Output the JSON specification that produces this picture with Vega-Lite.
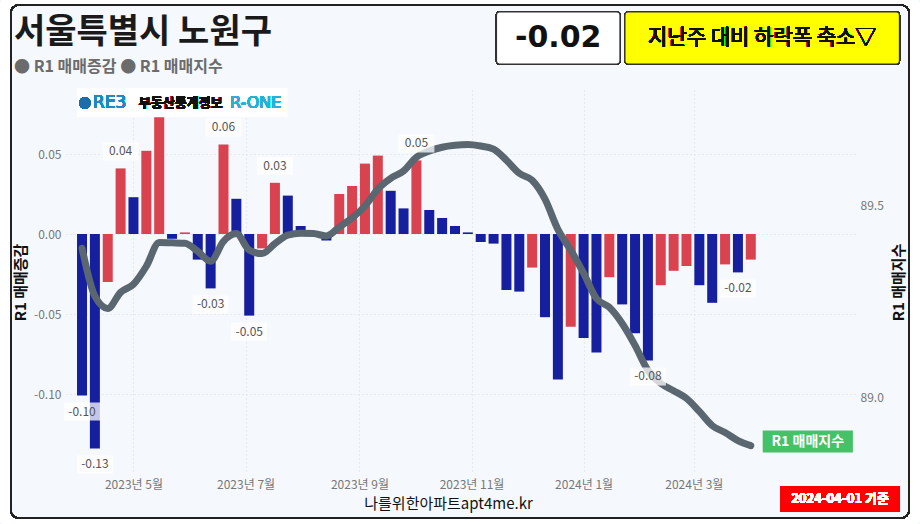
{
  "$schema": "https://vega.github.io/schema/vega-lite/v6.json",
  "width": 789,
  "height": 384,
  "autosize": "none",
  "padding": {"left": 66, "top": 90, "right": 65, "bottom": 50},
  "background": "#f5f8fc",
  "title": {
    "text": "서울특별시 노원구",
    "subtitle": "● R1 매매증감 ● R1 매매지수",
    "anchor": "start",
    "frame": "group",
    "dx": -52,
    "dy": 96,
    "offset": 14,
    "font": "Noto Sans CJK KR",
    "fontSize": 34,
    "fontWeight": "bold",
    "color": "#1a1a1a",
    "subtitleFont": "Noto Sans CJK KR",
    "subtitleFontSize": 16,
    "subtitleFontWeight": "bold",
    "subtitleColor": "#6b6b6b",
    "subtitlePadding": 9
  },
  "config": {
    "font": "Noto Sans CJK KR",
    "view": {"stroke": null},
    "axis": {"labelFont": "Noto Sans CJK KR", "titleFont": "Noto Sans CJK KR"}
  },
  "datasets": {
    "weekly": [
      {"date": "2023-04-03", "v": -0.101, "idx": 89.388, "dir": "하락", "show": true},
      {"date": "2023-04-10", "v": -0.134, "idx": 89.263, "dir": "하락", "show": true},
      {"date": "2023-04-17", "v": -0.030, "idx": 89.231, "dir": "상승", "show": false},
      {"date": "2023-04-24", "v": 0.041, "idx": 89.273, "dir": "상승", "show": true},
      {"date": "2023-05-01", "v": 0.023, "idx": 89.294, "dir": "하락", "show": false},
      {"date": "2023-05-08", "v": 0.052, "idx": 89.341, "dir": "상승", "show": false},
      {"date": "2023-05-15", "v": 0.073, "idx": 89.403, "dir": "상승", "show": false},
      {"date": "2023-05-22", "v": -0.003, "idx": 89.402, "dir": "하락", "show": false},
      {"date": "2023-05-29", "v": 0.001, "idx": 89.401, "dir": "상승", "show": false},
      {"date": "2023-06-05", "v": -0.016, "idx": 89.380, "dir": "하락", "show": false},
      {"date": "2023-06-12", "v": -0.034, "idx": 89.354, "dir": "하락", "show": true},
      {"date": "2023-06-19", "v": 0.056, "idx": 89.406, "dir": "상승", "show": true},
      {"date": "2023-06-26", "v": 0.022, "idx": 89.426, "dir": "하락", "show": false},
      {"date": "2023-07-03", "v": -0.051, "idx": 89.383, "dir": "하락", "show": true},
      {"date": "2023-07-10", "v": -0.009, "idx": 89.374, "dir": "상승", "show": false},
      {"date": "2023-07-17", "v": 0.032, "idx": 89.400, "dir": "상승", "show": true},
      {"date": "2023-07-24", "v": 0.024, "idx": 89.422, "dir": "하락", "show": false},
      {"date": "2023-07-31", "v": 0.005, "idx": 89.427, "dir": "하락", "show": false},
      {"date": "2023-08-07", "v": -0.001, "idx": 89.426, "dir": "하락", "show": false},
      {"date": "2023-08-14", "v": -0.004, "idx": 89.420, "dir": "하락", "show": false},
      {"date": "2023-08-21", "v": 0.025, "idx": 89.443, "dir": "상승", "show": false},
      {"date": "2023-08-28", "v": 0.030, "idx": 89.467, "dir": "상승", "show": false},
      {"date": "2023-09-04", "v": 0.044, "idx": 89.498, "dir": "상승", "show": false},
      {"date": "2023-09-11", "v": 0.049, "idx": 89.542, "dir": "상승", "show": false},
      {"date": "2023-09-18", "v": 0.027, "idx": 89.570, "dir": "하락", "show": false},
      {"date": "2023-09-25", "v": 0.016, "idx": 89.589, "dir": "하락", "show": false},
      {"date": "2023-10-02", "v": 0.046, "idx": 89.625, "dir": "상승", "show": true},
      {"date": "2023-10-09", "v": 0.015, "idx": 89.641, "dir": "하락", "show": false},
      {"date": "2023-10-16", "v": 0.010, "idx": 89.651, "dir": "하락", "show": false},
      {"date": "2023-10-23", "v": 0.005, "idx": 89.656, "dir": "하락", "show": false},
      {"date": "2023-10-30", "v": 0.001, "idx": 89.658, "dir": "하락", "show": false},
      {"date": "2023-11-06", "v": -0.005, "idx": 89.654, "dir": "하락", "show": false},
      {"date": "2023-11-13", "v": -0.006, "idx": 89.646, "dir": "하락", "show": false},
      {"date": "2023-11-20", "v": -0.035, "idx": 89.617, "dir": "하락", "show": false},
      {"date": "2023-11-27", "v": -0.036, "idx": 89.583, "dir": "하락", "show": false},
      {"date": "2023-12-04", "v": -0.021, "idx": 89.565, "dir": "상승", "show": false},
      {"date": "2023-12-11", "v": -0.052, "idx": 89.516, "dir": "하락", "show": false},
      {"date": "2023-12-18", "v": -0.091, "idx": 89.437, "dir": "하락", "show": false},
      {"date": "2023-12-25", "v": -0.058, "idx": 89.383, "dir": "상승", "show": false},
      {"date": "2024-01-01", "v": -0.065, "idx": 89.323, "dir": "하락", "show": false},
      {"date": "2024-01-08", "v": -0.074, "idx": 89.257, "dir": "하락", "show": false},
      {"date": "2024-01-15", "v": -0.027, "idx": 89.234, "dir": "상승", "show": false},
      {"date": "2024-01-22", "v": -0.044, "idx": 89.192, "dir": "하락", "show": false},
      {"date": "2024-01-29", "v": -0.062, "idx": 89.135, "dir": "하락", "show": false},
      {"date": "2024-02-05", "v": -0.079, "idx": 89.070, "dir": "하락", "show": true},
      {"date": "2024-02-12", "v": -0.032, "idx": 89.036, "dir": "상승", "show": false},
      {"date": "2024-02-19", "v": -0.023, "idx": 89.017, "dir": "상승", "show": false},
      {"date": "2024-02-26", "v": -0.020, "idx": 88.997, "dir": "상승", "show": false},
      {"date": "2024-03-04", "v": -0.032, "idx": 88.963, "dir": "하락", "show": false},
      {"date": "2024-03-11", "v": -0.043, "idx": 88.926, "dir": "하락", "show": false},
      {"date": "2024-03-18", "v": -0.019, "idx": 88.908, "dir": "상승", "show": false},
      {"date": "2024-03-25", "v": -0.024, "idx": 88.887, "dir": "하락", "show": true},
      {"date": "2024-04-01", "v": -0.016, "idx": 88.874, "dir": "상승", "show": false}
    ]
  },
  "data": {"name": "weekly"},
  "layer": [
    {
      "layer": [
        {
          "mark": {"type": "bar", "width": 10},
          "encoding": {
            "x": {
              "field": "date", "type": "temporal",
              "scale": {"type": "utc", "domain": [{"year": 2023, "month": 3, "date": 28, "utc": true}, {"year": 2024, "month": 5, "date": 25, "utc": true}], "nice": false},
              "axis": {
                "title": "나를위한아파트apt4me.kr",
                "titleFontSize": 15, "titleFontWeight": "normal", "titleColor": "#111",
                "titleX": 382, "titlePadding": 6,
                "values": [
                  {"year": 2023, "month": 5, "date": 1, "utc": true},
                  {"year": 2023, "month": 7, "date": 1, "utc": true},
                  {"year": 2023, "month": 9, "date": 1, "utc": true},
                  {"year": 2023, "month": 11, "date": 1, "utc": true},
                  {"year": 2024, "month": 1, "date": 1, "utc": true},
                  {"year": 2024, "month": 3, "date": 1, "utc": true}
                ],
                "labelExpr": "utcFormat(datum.value, '%Y년 %-m월')",
                "labelFontSize": 12, "labelColor": "#777", "labelPadding": 5,
                "ticks": false, "domain": false,
                "grid": true, "gridColor": "#d8dde3", "gridDash": [1, 3]
              }
            },
            "y": {
              "field": "v", "type": "quantitative",
              "scale": {"domain": [-0.15, 0.09], "nice": false, "zero": false},
              "axis": {
                "title": "R1 매매증감", "titleFontSize": 15, "titleFontWeight": "bold", "titleColor": "#111", "titlePadding": 5,
                "values": [-0.1, -0.05, 0, 0.05],
                "labelExpr": "replace(format(datum.value, '.2f'), '\u2212', '-')",
                "labelFontSize": 12, "labelColor": "#777", "labelPadding": 5,
                "ticks": false, "domain": false,
                "grid": true, "gridColor": "#d8dde3", "gridDash": [1, 3]
              }
            },
            "color": {
              "field": "dir", "type": "nominal",
              "scale": {"domain": ["상승", "하락"], "range": ["#d9434f", "#161f9e"]},
              "legend": null
            }
          }
        },
        {
          "mark": {"type": "rect", "fill": null, "stroke": "#ffffff", "strokeWidth": 12, "cornerRadius": 12},
          "encoding": {
            "x": {"datum": {"year": 2023, "month": 2, "date": 20, "utc": true}, "type": "temporal"},
            "x2": {"datum": {"year": 2024, "month": 6, "date": 29, "hours": 12, "utc": true}},
            "y": {"datum": 0.146875, "type": "quantitative"},
            "y2": {"datum": -0.181875}
          }
        },
        {
          "mark": {"type": "rect", "fill": null, "stroke": "#222", "strokeWidth": 1.5, "cornerRadius": 8},
          "encoding": {
            "x": {"datum": {"year": 2023, "month": 2, "date": 23, "hours": 5, "utc": true}, "type": "temporal"},
            "x2": {"datum": {"year": 2024, "month": 6, "date": 26, "hours": 4, "utc": true}},
            "y": {"datum": 0.143125, "type": "quantitative"},
            "y2": {"datum": -0.1775}
          }
        },
        {
          "mark": {"type": "rect", "fill": "#ffffff", "opacity": 0.9},
          "encoding": {
            "x": {"datum": {"year": 2023, "month": 3, "date": 31, "hours": 5, "utc": true}, "type": "temporal"},
            "x2": {"datum": {"year": 2023, "month": 7, "date": 23, "hours": 17, "utc": true}},
            "y": {"datum": 0.09125, "type": "quantitative"},
            "y2": {"datum": 0.073125}
          }
        },
        {
          "mark": {"type": "point", "filled": true, "color": "#1b6fa8", "size": 130, "opacity": 1},
          "encoding": {
            "x": {"datum": {"year": 2023, "month": 4, "date": 4, "hours": 12, "utc": true}, "type": "temporal"},
            "y": {"datum": 0.081875, "type": "quantitative"}
          }
        },
        {
          "mark": {"type": "text", "text": "RE3", "font": "DejaVu Sans", "fontSize": 17, "color": "#1a8cc4", "align": "center", "baseline": "middle"},
          "encoding": {
            "x": {"datum": {"year": 2023, "month": 4, "date": 18, "utc": true}, "type": "temporal"},
            "y": {"datum": 0.081875, "type": "quantitative"}
          }
        },
        {
          "mark": {"type": "text", "text": "부동산통계정보", "font": "Noto Sans CJK KR", "fontSize": 13, "fontWeight": "bold", "color": "#111", "align": "center", "baseline": "middle"},
          "encoding": {
            "x": {"datum": {"year": 2023, "month": 5, "date": 26, "hours": 17, "utc": true}, "type": "temporal"},
            "y": {"datum": 0.081875, "type": "quantitative"}
          }
        },
        {
          "mark": {"type": "text", "text": "R-ONE", "font": "DejaVu Sans", "fontSize": 16, "color": "#27b0d8", "align": "center", "baseline": "middle"},
          "encoding": {
            "x": {"datum": {"year": 2023, "month": 7, "date": 6, "hours": 12, "utc": true}, "type": "temporal"},
            "y": {"datum": 0.081875, "type": "quantitative"}
          }
        },
        {
          "mark": {"type": "rect", "fill": "#ffffff", "stroke": "#333", "strokeWidth": 1.2, "cornerRadius": 3},
          "encoding": {
            "x": {"datum": {"year": 2023, "month": 11, "date": 14, "hours": 14, "utc": true}, "type": "temporal"},
            "x2": {"datum": {"year": 2024, "month": 1, "date": 20, "hours": 19, "utc": true}},
            "y": {"datum": 0.13875, "type": "quantitative"},
            "y2": {"datum": 0.10625}
          }
        },
        {
          "transform": [{"filter": "utcyear(datum.date) === 2024 && utcmonth(datum.date) === 3 && utcdate(datum.date) === 1"}],
          "mark": {"type": "text", "font": "DejaVu Sans", "fontSize": 30, "fontWeight": "bold", "color": "#111", "align": "center", "baseline": "middle",
                   "text": {"expr": "replace(format(datum.v, '.2f'), '\u2212', '-')"}},
          "encoding": {
            "x": {"datum": {"year": 2023, "month": 12, "date": 18, "hours": 5, "utc": true}, "type": "temporal"},
            "y": {"datum": 0.1225, "type": "quantitative"}
          }
        },
        {
          "mark": {"type": "rect", "fill": "#ffff00", "stroke": "#333", "strokeWidth": 1.2, "cornerRadius": 3},
          "encoding": {
            "x": {"datum": {"year": 2024, "month": 1, "date": 23, "hours": 12, "utc": true}, "type": "temporal"},
            "x2": {"datum": {"year": 2024, "month": 6, "date": 20, "hours": 22, "utc": true}},
            "y": {"datum": 0.13875, "type": "quantitative"},
            "y2": {"datum": 0.10625}
          }
        },
        {
          "mark": {"type": "text", "text": "지난주 대비 하락폭 축소▽", "font": "Noto Sans CJK KR", "fontSize": 21, "fontWeight": "normal", "color": "#111", "align": "center", "baseline": "middle"},
          "encoding": {
            "x": {"datum": {"year": 2024, "month": 4, "date": 7, "hours": 5, "utc": true}, "type": "temporal"},
            "y": {"datum": 0.1225, "type": "quantitative"}
          }
        },
        {
          "mark": {"type": "rect", "fill": "#ff0000"},
          "encoding": {
            "x": {"datum": {"year": 2024, "month": 4, "date": 17, "hours": 10, "utc": true}, "type": "temporal"},
            "x2": {"datum": {"year": 2024, "month": 6, "date": 20, "hours": 22, "utc": true}},
            "y": {"datum": -0.1575, "type": "quantitative"},
            "y2": {"datum": -0.17375}
          }
        },
        {
          "mark": {"type": "text", "text": "2024-04-01 기준", "font": "Noto Sans CJK KR", "fontSize": 13, "fontWeight": "bold", "color": "#ffffff", "align": "center", "baseline": "middle"},
          "encoding": {
            "x": {"datum": {"year": 2024, "month": 5, "date": 19, "hours": 14, "utc": true}, "type": "temporal"},
            "y": {"datum": -0.165625, "type": "quantitative"}
          }
        }
      ]
    },
    {
      "layer": [
        {
          "mark": {"type": "line", "color": "#5b6770", "strokeWidth": 7, "interpolate": "monotone", "strokeCap": "round", "strokeJoin": "round"},
          "encoding": {
            "x": {"field": "date", "type": "temporal"},
            "y": {
              "field": "idx", "type": "quantitative",
              "scale": {"domain": [88.8, 89.8], "nice": false, "zero": false},
              "axis": {
                "orient": "right", "title": "R1 매매지수", "titleAngle": 270, "titleFontSize": 15, "titleFontWeight": "bold", "titleColor": "#111", "titlePadding": 23,
                "values": [89.0, 89.5], "format": ".1f",
                "labelFontSize": 12, "labelColor": "#777", "labelPadding": 5,
                "ticks": false, "domain": false, "grid": false
              }
            }
          }
        },
        {
          "transform": [{"filter": "utcyear(datum.date) === 2024 && utcmonth(datum.date) === 3 && utcdate(datum.date) === 1"}],
          "mark": {"type": "point", "shape": "M-2.05,-0.5H2.05V0.5H-2.05Z", "size": 1936, "filled": true, "color": "#45c268", "opacity": 1, "xOffset": 57, "yOffset": -4},
          "encoding": {
            "x": {"field": "date", "type": "temporal"},
            "y": {"field": "idx", "type": "quantitative"}
          }
        },
        {
          "transform": [{"filter": "utcyear(datum.date) === 2024 && utcmonth(datum.date) === 3 && utcdate(datum.date) === 1"}],
          "mark": {"type": "text", "text": "R1 매매지수", "font": "Noto Sans CJK KR", "fontSize": 14, "fontWeight": "bold", "color": "#ffffff", "align": "center", "baseline": "middle", "xOffset": 57, "yOffset": -4},
          "encoding": {
            "x": {"field": "date", "type": "temporal"},
            "y": {"field": "idx", "type": "quantitative"}
          }
        }
      ]
    },
    {
      "transform": [{"filter": "datum.show"}],
      "layer": [
        {
          "transform": [{"filter": "datum.v > 0"}],
          "mark": {"type": "point", "shape": "M-1,-0.5H1V0.5H-1Z", "size": 1296, "filled": true, "color": "#ffffff", "opacity": 0.75, "yOffset": -17},
          "encoding": {
            "x": {"field": "date", "type": "temporal"},
            "y": {"field": "v", "type": "quantitative", "scale": {"domain": [-0.15, 0.09], "nice": false, "zero": false}, "axis": null}
          }
        },
        {
          "transform": [{"filter": "datum.v < 0"}],
          "mark": {"type": "point", "shape": "M-1,-0.5H1V0.5H-1Z", "size": 1296, "filled": true, "color": "#ffffff", "opacity": 0.75, "yOffset": 16},
          "encoding": {
            "x": {"field": "date", "type": "temporal"},
            "y": {"field": "v", "type": "quantitative", "axis": null}
          }
        },
        {
          "transform": [{"filter": "datum.v > 0"}],
          "mark": {"type": "text", "fontSize": 12, "color": "#555", "align": "center", "baseline": "middle", "yOffset": -17,
                   "text": {"expr": "replace(format(datum.v, '.2f'), '\u2212', '-')"}},
          "encoding": {
            "x": {"field": "date", "type": "temporal"},
            "y": {"field": "v", "type": "quantitative", "axis": null}
          }
        },
        {
          "transform": [{"filter": "datum.v < 0"}],
          "mark": {"type": "text", "fontSize": 12, "color": "#555", "align": "center", "baseline": "middle", "yOffset": 16,
                   "text": {"expr": "replace(format(datum.v, '.2f'), '\u2212', '-')"}},
          "encoding": {
            "x": {"field": "date", "type": "temporal"},
            "y": {"field": "v", "type": "quantitative", "axis": null}
          }
        }
      ]
    }
  ],
  "resolve": {"scale": {"y": "independent"}}
}
